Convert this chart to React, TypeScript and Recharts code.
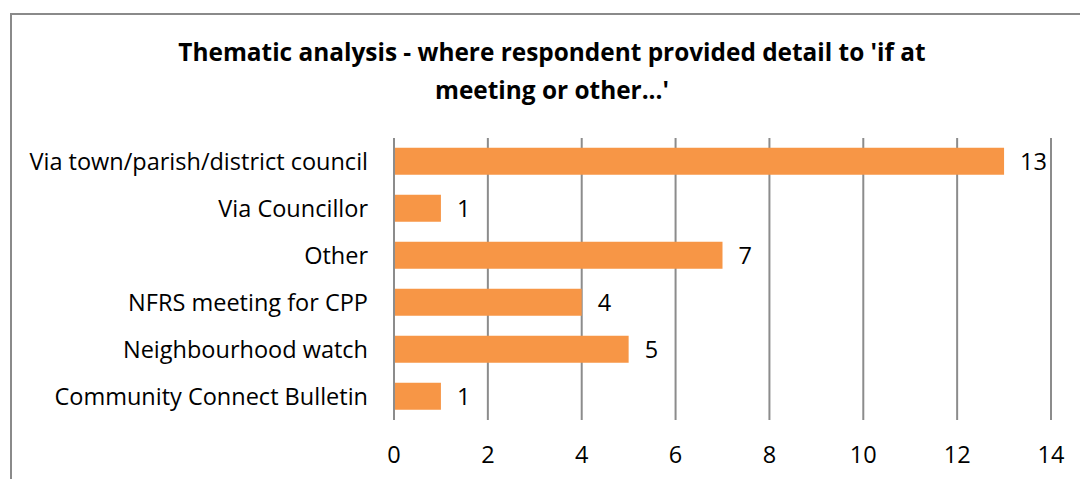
import React from "react";
import {
  Bar,
  BarChart,
  CartesianGrid,
  LabelList,
  XAxis,
  YAxis,
} from "recharts";

const categories = [
  "Via town/parish/district council",
  "Via Councillor",
  "Other",
  "NFRS meeting for CPP",
  "Neighbourhood watch",
  "Community Connect Bulletin",
];
const counts = [13, 1, 7, 4, 5, 1];
const xTicks = [0, 2, 4, 6, 8, 10, 12, 14];

const FONT = "'Open Sans', Lato, sans-serif";
const ORANGE = "#F79646";
const GRID = "#8c8c8c";
const TEXT_SIZE = 23.5;

export default function App() {
  const data = categories.map((name, i) => ({ name, value: counts[i] }));

  return (
    <div
      style={{
        position: "absolute",
        left: 0,
        top: 0,
        width: 1080,
        height: 479,
        overflow: "hidden",
        background: "white",
        fontFamily: FONT,
      }}
    >
      <div
        style={{
          position: "absolute",
          left: 10,
          top: 13,
          width: 1200,
          height: 600,
          border: "2px solid #8a8a8a",
          boxSizing: "border-box",
        }}
      />
      <div
        style={{
          position: "absolute",
          left: 0,
          top: 33,
          width: 1104,
          textAlign: "center",
          fontWeight: 700,
          fontSize: 24.4,
          lineHeight: "38px",
          color: "#000",
        }}
      >
        Thematic analysis - where respondent provided detail to 'if at
        <br />
        meeting or other...'
      </div>
      <div style={{ position: "absolute", left: 0, top: 0 }}>
        <BarChart
          width={1080}
          height={479}
          data={data}
          layout="vertical"
          margin={{ top: 138, right: 29, bottom: 0, left: 0 }}
          barCategoryGap="21%"
        >
          <CartesianGrid horizontal={false} stroke={GRID} strokeWidth={2} />
          <XAxis
            type="number"
            domain={[0, 14]}
            ticks={xTicks}
            height={59}
            axisLine={false}
            tickLine={false}
            tickMargin={20}
            tick={{ fill: "#000", fontSize: TEXT_SIZE, fontFamily: FONT }}
          />
          <YAxis
            type="category"
            dataKey="name"
            width={394}
            axisLine={{ stroke: GRID, strokeWidth: 2 }}
            tickLine={false}
            tickMargin={20}
            tick={{ fill: "#000", fontSize: TEXT_SIZE, fontFamily: FONT }}
          />
          <Bar dataKey="value" fill={ORANGE} isAnimationActive={false}>
            <LabelList
              dataKey="value"
              position="right"
              offset={16}
              fill="#000"
              fontSize={TEXT_SIZE}
              fontFamily={FONT}
            />
          </Bar>
        </BarChart>
      </div>
    </div>
  );
}
